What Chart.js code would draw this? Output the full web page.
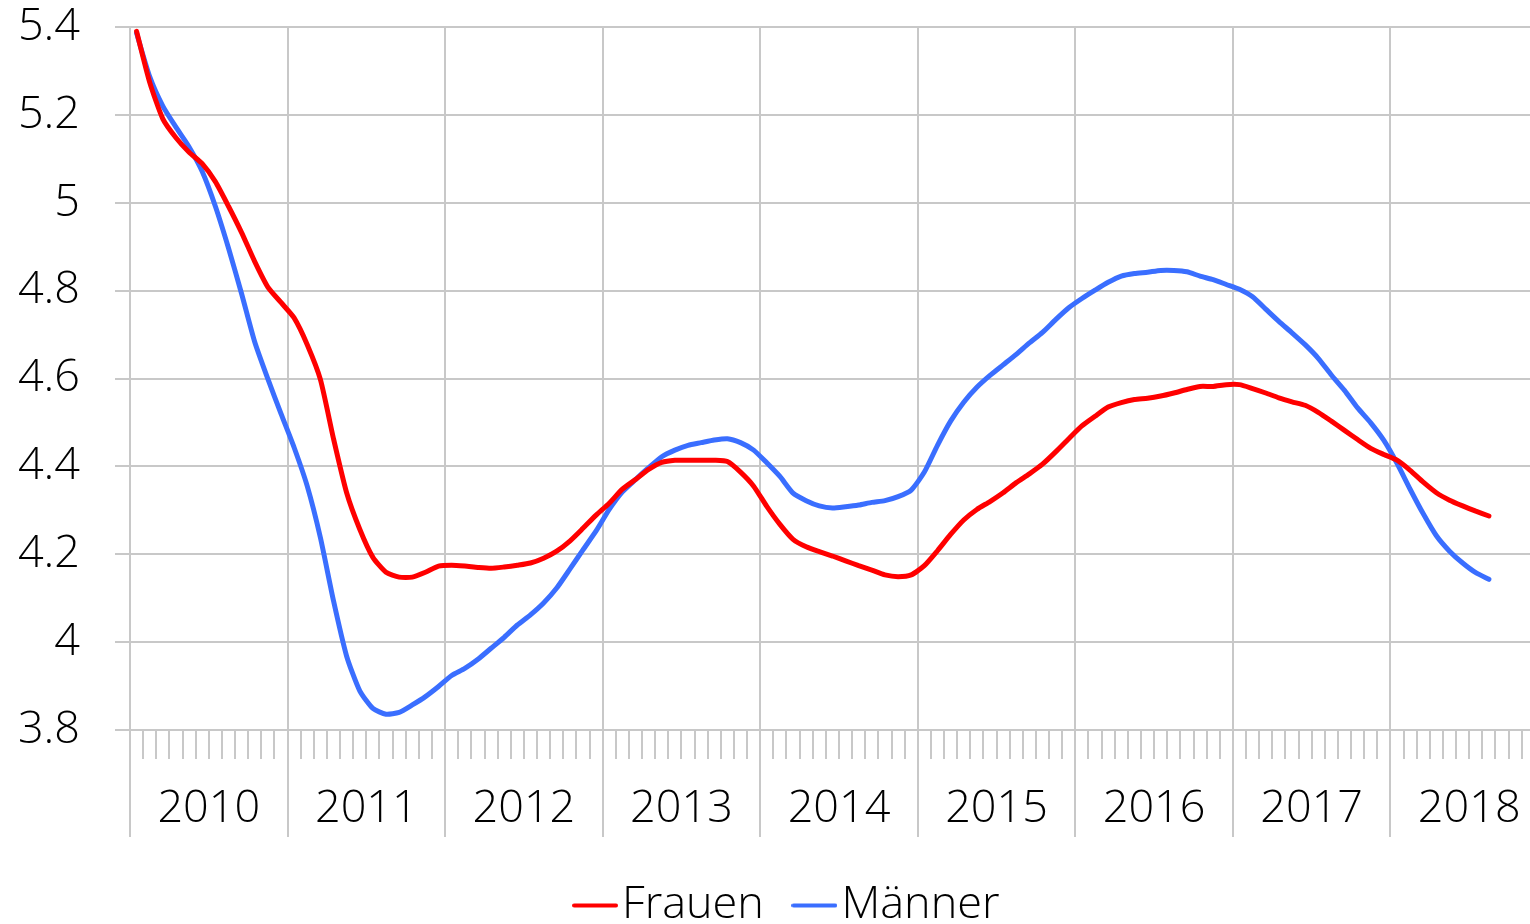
<!DOCTYPE html>
<html>
<head>
<meta charset="utf-8">
<title>Frauen / Männer</title>
<script src="https://cdn.jsdelivr.net/npm/chart.js@4/dist/chart.umd.min.js"></script>
<style>
    html, body { margin: 0; padding: 0; background: #fff; overflow: hidden; }
    #wrap { width: 1590px; height: 924px; }
</style>
</head>
<body>
<div id="wrap"><canvas id="quote" width="1590" height="924"></canvas></div>
<script>
// monthly values, Jan 2010 - Aug 2018
var years = ['2010', '2011', '2012', '2013', '2014', '2015', '2016', '2017', '2018'];
var seriesNames = ['Frauen', 'Männer'];
var seriesColors = ['#ff0000', '#3a6eff'];

var frauen = [
    5.390, 5.274, 5.191, 5.148, 5.115, 5.089, 5.048, 4.992, 4.932, 4.866, 4.808, 4.773,
    4.738, 4.677, 4.598, 4.463, 4.340, 4.257, 4.193, 4.159, 4.148, 4.148, 4.159, 4.173,
    4.175, 4.173, 4.170, 4.168, 4.171, 4.175, 4.180, 4.191, 4.207, 4.230, 4.259, 4.289,
    4.316, 4.348, 4.370, 4.393, 4.409, 4.414, 4.414, 4.414, 4.414, 4.411, 4.387, 4.355,
    4.309, 4.268, 4.234, 4.217, 4.206, 4.196, 4.185, 4.174, 4.164, 4.153, 4.149, 4.153,
    4.174, 4.208, 4.245, 4.278, 4.302, 4.320, 4.340, 4.363, 4.383, 4.405, 4.433, 4.463,
    4.492, 4.514, 4.535, 4.545, 4.552, 4.555, 4.560, 4.567, 4.575, 4.582, 4.582, 4.586,
    4.586, 4.577, 4.567, 4.556, 4.547, 4.539, 4.523, 4.503, 4.482, 4.461, 4.441, 4.427,
    4.414, 4.391, 4.364, 4.340, 4.323, 4.310, 4.298, 4.287
];

var maenner = [
    5.386, 5.287, 5.220, 5.172, 5.127, 5.071, 4.992, 4.897, 4.793, 4.683, 4.599, 4.520,
    4.443, 4.355, 4.238, 4.094, 3.968, 3.889, 3.849, 3.836, 3.840, 3.857, 3.876, 3.899,
    3.924, 3.940, 3.961, 3.986, 4.011, 4.039, 4.062, 4.089, 4.123, 4.166, 4.210, 4.253,
    4.302, 4.342, 4.370, 4.397, 4.422, 4.437, 4.448, 4.454, 4.460, 4.463, 4.454, 4.437,
    4.408, 4.377, 4.339, 4.322, 4.310, 4.305, 4.308, 4.312, 4.318, 4.322, 4.331, 4.346,
    4.387, 4.448, 4.503, 4.546, 4.580, 4.607, 4.631, 4.655, 4.681, 4.705, 4.734, 4.761,
    4.782, 4.801, 4.819, 4.833, 4.839, 4.842, 4.846, 4.846, 4.843, 4.833, 4.825, 4.814,
    4.803, 4.786, 4.758, 4.730, 4.704, 4.677, 4.646, 4.608, 4.573, 4.533, 4.499, 4.459,
    4.407, 4.348, 4.292, 4.242, 4.207, 4.180, 4.158, 4.143
];

var yMin = 3.8, yMax = 5.4, yStep = 0.2;

// one category per month, the axis runs over the full years
var months = [];
years.forEach(function (y) {
    for (let m = 1; m <= 12; m++) {
        months.push(y + '-' + (m < 10 ? '0' + m : m));
    }
});

var gridColor = '#c8c8c8';
var textFont = { family: "'Open Sans', 'Noto Sans', sans-serif", size: 45, weight: 300 };

// short line used as legend symbol
function legendLine(color) {
    let c = document.createElement('canvas');
    c.width = 46;
    c.height = 5;
    let ctx = c.getContext('2d');
    ctx.strokeStyle = color;
    ctx.lineWidth = 4;
    ctx.lineCap = 'round';
    ctx.beginPath();
    ctx.moveTo(2, 2.5);
    ctx.lineTo(44, 2.5);
    ctx.stroke();
    return c;
}

var datasets = [frauen, maenner].map(function (values, i) {
    return {
        label: seriesNames[i],
        data: values,
        borderColor: seriesColors[i],
        backgroundColor: seriesColors[i],
        borderWidth: 5,
        borderCapStyle: 'round',
        borderJoinStyle: 'round',
        pointRadius: 0,
        tension: 0.2
    };
});

new Chart(document.getElementById('quote'), {
    type: 'line',
    data: {
        labels: months,
        datasets: datasets
    },
    options: {
        responsive: false,
        animation: false,
        layout: {
            padding: { top: 27, right: 0, bottom: -14, left: 0 }
        },
        plugins: {
            tooltip: { enabled: false },
            legend: {
                position: 'bottom',
                labels: {
                    usePointStyle: true,
                    pointStyleWidth: 9,
                    boxHeight: 4,
                    padding: 46,
                    color: '#000',
                    font: textFont,
                    generateLabels: function (chart) {
                        let items = Chart.defaults.plugins.legend.labels.generateLabels(chart);
                        items.forEach(function (item, i) {
                            item.pointStyle = legendLine(seriesColors[i]);
                        });
                        return items;
                    }
                }
            }
        },
        scales: {
            x: {
                type: 'category',
                position: 'bottom',
                weight: 0,
                offset: true,
                grid: {
                    offset: true,
                    drawOnChartArea: false,
                    tickLength: 29,
                    color: gridColor,
                    lineWidth: 2
                },
                border: { color: gridColor, width: 2 },
                ticks: { display: false }
            },
            x2: {
                type: 'category',
                labels: years,
                position: 'bottom',
                weight: 1,
                offset: true,
                afterFit: function (scale) {
                    scale.height = 78;
                },
                grid: {
                    offset: true,
                    drawOnChartArea: true,
                    tickLength: 78,
                    color: gridColor,
                    lineWidth: 2
                },
                border: { display: false },
                ticks: {
                    padding: -55,
                    color: '#000',
                    maxRotation: 0,
                    autoSkip: false,
                    font: textFont
                }
            },
            y: {
                min: yMin,
                max: yMax,
                afterFit: function (scale) {
                    scale.width = 130;
                    scale.paddingTop = 0;
                    scale.paddingBottom = 0;
                },
                grid: {
                    color: gridColor,
                    lineWidth: 2,
                    tickLength: 15
                },
                border: { display: false },
                ticks: {
                    stepSize: yStep,
                    padding: 35,
                    color: '#000',
                    font: textFont,
                    callback: function (v) {
                        return String(+v.toFixed(1));
                    }
                }
            },
            // empty right axis, keeps the plot edge where the year 2018 ends
            yRight: {
                position: 'right',
                min: yMin,
                max: yMax,
                afterFit: function (scale) {
                    scale.width = 42;
                    scale.paddingTop = 0;
                    scale.paddingBottom = 0;
                },
                grid: { display: false },
                border: { display: false },
                ticks: { display: false }
            }
        }
    }
});
</script>
</body>
</html>
